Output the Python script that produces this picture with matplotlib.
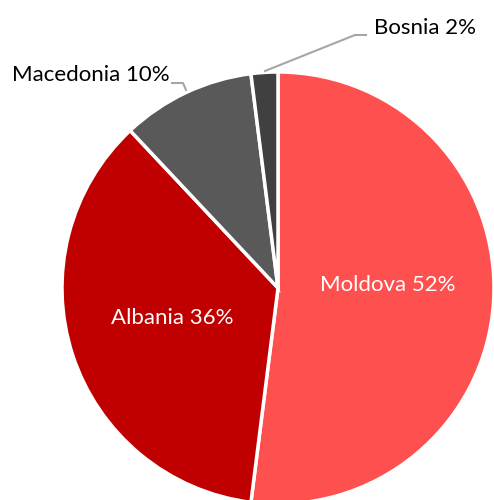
import matplotlib
matplotlib.use("Agg")
import matplotlib.pyplot as plt

plt.rcParams['font.family'] = ['Lato', 'DejaVu Sans']

# data
countries = ["Moldova", "Albania", "Macedonia", "Bosnia"]
shares = [52, 36, 10, 2]
colors = ["#FF5050", "#C00000", "#595959", "#404040"]

fig = plt.figure(figsize=(4.94, 5), dpi=100)
ax = fig.add_axes([0, 0, 1, 1])

ax.pie(
    shares,
    colors=colors,
    startangle=90,
    counterclock=False,
    center=(278, 212),
    radius=216,
    wedgeprops=dict(edgecolor='white', linewidth=2.5),
    frame=True,
)
ax.set_xlim(0, 494)
ax.set_ylim(0, 500)
ax.axis('off')

labels = [f"{c} {s}%" for c, s in zip(countries, shares)]

# inside labels
ax.text(388, 215, labels[0], color='white', fontsize=16, ha='center', va='center')
ax.text(172, 182, labels[1], color='white', fontsize=16, ha='center', va='center')

# outside labels with leader lines
ax.text(170, 425, labels[2], color='black', fontsize=16, ha='right', va='center')
ax.plot([172, 183, 186], [417, 417, 410], color='#A6A6A6', lw=1.5)
ax.text(374, 472, labels[3], color='black', fontsize=16, ha='left', va='center')
ax.plot([366, 355, 265], [465, 465, 429], color='#A6A6A6', lw=1.5)

fig.savefig("out.png", dpi=100)
